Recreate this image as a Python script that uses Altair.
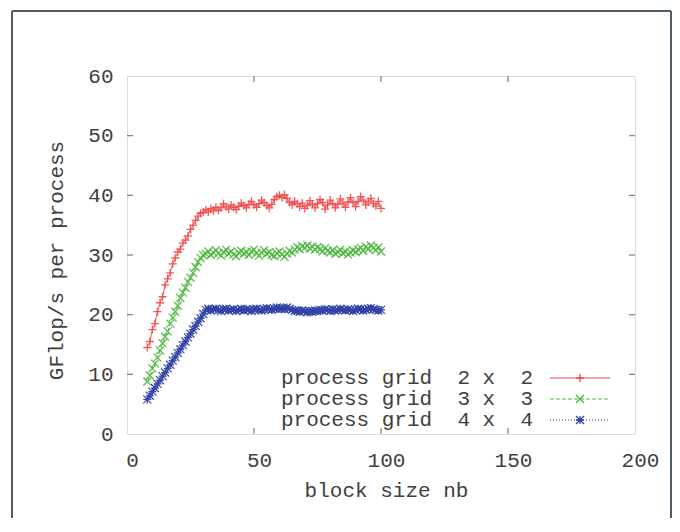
import altair as alt
import pandas as pd

# ---- data -------------------------------------------------------------
nb = list(range(8, 101))

grid_2x2 = [14.5, 15.5, 17.5, 18.5, 20.5, 22.0, 23.0, 25.0, 26.0, 27.0, 28.5, 29.5,
            30.5, 31.0, 32.0, 32.5, 33.2, 34.3, 35.0, 35.8, 36.5, 37.0, 37.2,
            37.6, 37.2, 37.8, 37.4, 38.0, 37.5, 37.9, 38.6, 38.1, 37.7,
            38.4, 38.0, 37.6, 38.2, 38.7, 38.3, 37.9, 38.5, 39.0, 38.4,
            38.0, 38.6, 39.2, 38.8, 38.3, 37.9, 38.5, 39.3, 39.8, 40.0,
            39.6, 40.1, 39.5, 38.8, 38.4, 39.0, 38.6, 38.1, 38.7, 37.8,
            38.3, 39.1, 38.5, 37.9, 38.6, 39.3, 38.8, 37.7, 38.4, 39.2,
            38.6, 37.9, 38.5, 39.4, 38.7, 38.0, 38.9, 39.6, 38.8, 38.1,
            39.0, 39.8, 39.2, 38.4, 38.9, 39.5, 38.6, 38.2, 39.0, 37.8]

grid_3x3 = [8.8, 9.8, 11.0, 11.8, 12.8, 14.0, 15.2, 16.3, 17.2, 18.5, 19.5, 20.5,
            21.5, 22.8, 23.7, 24.5, 25.5, 26.2, 27.0, 28.0, 28.8, 29.5, 30.0,
            30.2, 30.6, 30.0, 30.4, 30.8, 30.3, 29.9, 30.5, 30.9, 30.2,
            30.6, 30.1, 29.8, 30.4, 30.7, 30.2, 30.5, 30.0, 30.6, 30.9,
            30.3, 29.9, 30.4, 30.8, 30.2, 30.5, 30.0, 29.8, 30.3, 30.6,
            30.1, 29.7, 30.2, 30.7, 30.4, 30.9, 31.3, 31.0, 31.5, 31.2,
            31.6, 31.1, 31.4, 30.9, 31.3, 31.0, 30.6, 31.2, 30.7, 30.4,
            30.8, 30.2, 30.5, 30.9, 30.3, 30.6, 30.1, 30.4, 30.8, 30.5,
            30.9, 31.2, 30.7, 31.4, 31.0, 31.6, 31.2, 30.8, 31.3, 30.6]

grid_4x4 = [5.8, 6.4, 7.1, 7.7, 8.4, 9.0, 9.7, 10.3, 11.0, 11.6, 12.3, 12.9,
            13.6, 14.2, 14.9, 15.5, 16.2, 16.8, 17.5, 18.1, 18.8, 19.4, 20.1,
            20.8, 21.0, 20.7, 20.9, 21.0, 20.8, 20.6, 20.9, 21.0, 20.7,
            20.8, 20.9, 20.6, 20.8, 21.0, 20.7, 20.9, 20.8, 20.6, 20.9,
            21.0, 20.8, 20.7, 20.9, 21.1, 20.9, 20.8, 21.0, 21.2, 21.0,
            21.1, 20.9, 21.2, 21.0, 20.8, 20.6, 20.7, 20.5, 20.7, 20.6,
            20.4, 20.6, 20.5, 20.7, 20.6, 20.8, 20.7, 20.9, 20.8, 20.6,
            20.9, 20.7, 20.8, 21.0, 20.8, 20.7, 20.9, 20.8, 20.6, 20.8,
            21.0, 20.9, 20.7, 20.8, 21.0, 21.1, 20.9, 20.8, 20.7, 20.8]

series_names = ["process grid  2 x  2", "process grid  3 x  3", "process grid  4 x  4"]
series_values = [grid_2x2, grid_3x3, grid_4x4]
x_ticks = [0, 50, 100, 150, 200]
y_ticks = [0, 10, 20, 30, 40, 50, 60]

# ---- styling ------------------------------------------------------------
colors = ["#f04848", "#4cb83e", "#3040a4"]
dashes = [[1, 0], [4, 2], [1, 2]]
PLUS = "M-1,0L1,0M0,-1L0,1"
CROSS = "M-1,-1L1,1M-1,1L1,-1"
STAR = "M-1,0L1,0M0,-1L0,1M-1,-1L1,1M-1,1L1,-1"
shapes = [PLUS, CROSS, STAR]
FONT = "Liberation Mono"
TXT = "#404040"
W, H = 508, 358

rows = []
for name, vals in zip(series_names, series_values):
    for x, y in zip(nb, vals):
        rows.append({"nb": x, "gflops": y, "series": name})
df = pd.DataFrame(rows)

xscale = alt.Scale(domain=[0, 200], nice=False, zero=False)
yscale = alt.Scale(domain=[0, 60], nice=False, zero=False)
xaxis = alt.Axis(values=x_ticks, title="block size nb", grid=False, domain=False,
                 ticks=False, tickSize=0, labelPadding=15, labelFlush=False, labelOffset=5,
                 labelFont=FONT, labelFontSize=21, labelColor=TXT, titleFont=FONT,
                 titleFontSize=21, titleFontWeight="normal", titleColor=TXT,
                 titleX=259, titleY=62, titleAlign="center", titleBaseline="alphabetic")
yaxis = alt.Axis(values=y_ticks, title="GFlop/s per process", grid=False, domain=False,
                 ticks=False, tickSize=0, labelPadding=14, labelFlush=False,
                 labelFont=FONT, labelFontSize=21, labelColor=TXT, titleFont=FONT,
                 titleFontSize=21, titleFontWeight="normal", titleColor=TXT,
                 titleX=-71, titleY=184, titleAngle=270, titleAlign="center",
                 titleBaseline="middle")

color_enc = alt.Color("series:N", scale=alt.Scale(domain=series_names, range=colors), legend=None)

lines = alt.Chart(df).mark_line(strokeWidth=1).encode(
    x=alt.X("nb:Q", scale=xscale, axis=xaxis),
    y=alt.Y("gflops:Q", scale=yscale, axis=yaxis),
    color=color_enc,
    strokeDash=alt.StrokeDash("series:N", scale=alt.Scale(domain=series_names, range=dashes), legend=None),
)
points = alt.Chart(df).mark_point(filled=False, strokeWidth=1.3, size=64, opacity=0.9).encode(
    x=alt.X("nb:Q", scale=xscale, axis=xaxis),
    y=alt.Y("gflops:Q", scale=yscale, axis=yaxis),
    color=color_enc,
    shape=alt.Shape("series:N", scale=alt.Scale(domain=series_names, range=shapes), legend=None),
)

# inward mirrored ticks
ydf = pd.DataFrame({"gflops": y_ticks[1:-1]})
xdf = pd.DataFrame({"nb": x_ticks[1:-1]})
tick_style = dict(color="#7f7f7f", strokeWidth=1.2)
yt_left = alt.Chart(ydf).mark_rule(**tick_style).encode(
    y=alt.Y("gflops:Q", scale=yscale, axis=yaxis), x=alt.value(0), x2=alt.value(6))
yt_right = alt.Chart(ydf).mark_rule(**tick_style).encode(
    y=alt.Y("gflops:Q", scale=yscale, axis=yaxis), x=alt.value(W - 6), x2=alt.value(W))
xt_bot = alt.Chart(xdf).mark_rule(**tick_style).encode(
    x=alt.X("nb:Q", scale=xscale, axis=xaxis), y=alt.value(H), y2=alt.value(H - 6))
xt_top = alt.Chart(xdf).mark_rule(**tick_style).encode(
    x=alt.X("nb:Q", scale=xscale, axis=xaxis), y=alt.value(0), y2=alt.value(6))

# manual key (text on the left, sample on the right)
key_layers = []
key_rows = [302, 323, 344]
for i, name in enumerate(series_names):
    label = name.replace(" ", "\u00a0")
    kd = pd.DataFrame({"label": [label]})
    key_layers.append(alt.Chart(kd).mark_text(
        font=FONT, fontSize=21, color=TXT, align="right", baseline="middle").encode(
        text="label:N", x=alt.value(406), y=alt.value(key_rows[i])))
    key_layers.append(alt.Chart(kd).mark_rule(
        color=colors[i], strokeWidth=1, strokeDash=dashes[i]).encode(
        x=alt.value(423), x2=alt.value(483), y=alt.value(key_rows[i])))
    key_layers.append(alt.Chart(kd).mark_point(
        shape=shapes[i], filled=False, strokeWidth=1.3, size=64, color=colors[i], opacity=1).encode(
        x=alt.value(453), y=alt.value(key_rows[i])))

# outer picture frame
fd = pd.DataFrame({"a": [0]})
frame_style = dict(color="#4d5c68", strokeWidth=2)
frame = [
    alt.Chart(fd).mark_rule(**frame_style).encode(x=alt.value(-115), y=alt.value(-65), y2=alt.value(540)),
    alt.Chart(fd).mark_rule(**frame_style).encode(x=alt.value(544), y=alt.value(-65), y2=alt.value(540)),
    alt.Chart(fd).mark_rule(**frame_style).encode(x=alt.value(-115), x2=alt.value(544), y=alt.value(-65)),
]

chart = alt.layer(lines, points, yt_left, yt_right, xt_bot, xt_top, *key_layers, *frame).properties(
    width=W, height=H,
    autosize=alt.AutoSizeParams(type="none"),
    padding={"left": 119, "top": 68, "right": 37, "bottom": 84},
).configure_view(stroke="#7f7f7f", strokeWidth=1.6).configure(background="white")

chart.save("out.html", embed_options={"renderer": "svg", "actions": False})
